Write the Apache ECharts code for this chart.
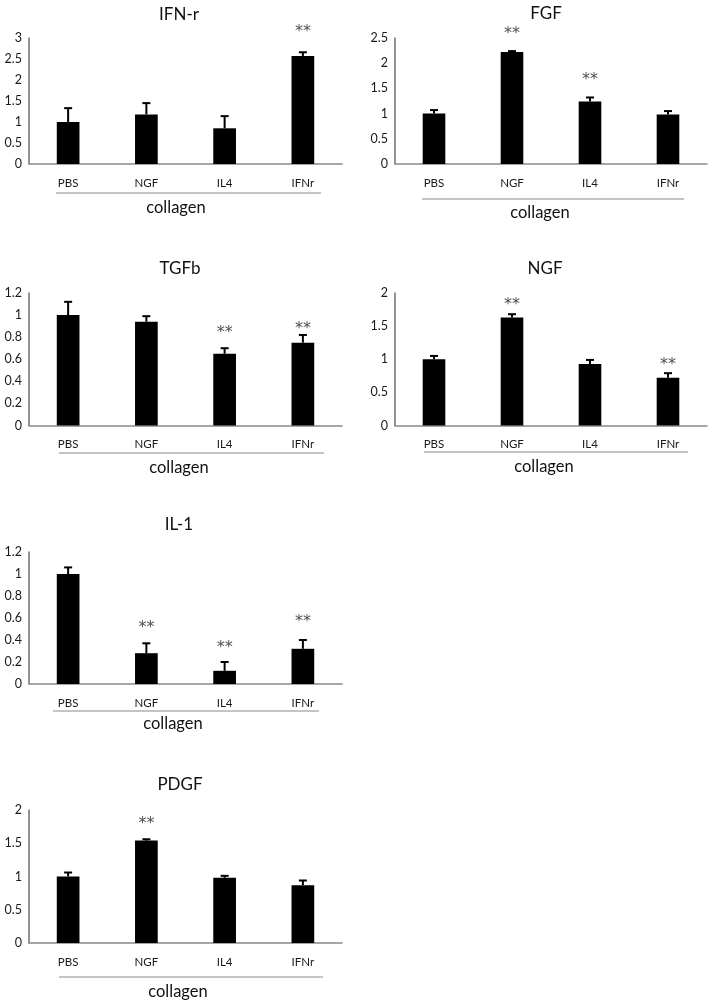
<!DOCTYPE html>
<html><head><meta charset="utf-8">
<script src="https://cdn.jsdelivr.net/npm/echarts@6/dist/echarts.min.js"></script>
<style>html,body{margin:0;padding:0;background:#fff}#c{width:709px;height:1001px}</style>
</head><body><div id="c"></div>
<script>
// ---- data ----
const categories = ['PBS', 'NGF', 'IL4', 'IFNr'];
const groupLabel = 'collagen';
const panelTitles = ['IFN-r', 'FGF', 'TGFb', 'NGF', 'IL-1', 'PDGF'];

const ifnrMean = [1.00, 1.18, 0.85, 2.57];
const ifnrErr  = [0.33, 0.27, 0.29, 0.09];
const ifnrStar = [null, null, null, 3.21];

const fgfMean = [1.00, 2.22, 1.24, 0.98];
const fgfErr  = [0.07, 0.02, 0.08, 0.07];
const fgfStar = [null, 2.64, 1.72, null];

const tgfbMean = [1.00, 0.94, 0.65, 0.75];
const tgfbErr  = [0.12, 0.05, 0.05, 0.07];
const tgfbStar = [null, null, 0.87, 0.90];

const ngfMean = [1.00, 1.63, 0.93, 0.72];
const ngfErr  = [0.05, 0.05, 0.06, 0.07];
const ngfStar = [null, 1.86, null, 0.96];

const il1Mean = [1.00, 0.28, 0.12, 0.32];
const il1Err  = [0.06, 0.09, 0.08, 0.08];
const il1Star = [null, 0.54, 0.36, 0.59];

const pdgfMean = [1.00, 1.54, 0.98, 0.87];
const pdgfErr  = [0.06, 0.02, 0.03, 0.07];
const pdgfStar = [null, 1.84, null, null];

const yMax      = [3, 2.5, 1.2, 2, 1.2, 2];
const yInterval = [0.5, 0.5, 0.2, 0.5, 0.2, 0.5];

const means = [ifnrMean, fgfMean, tgfbMean, ngfMean, il1Mean, pdgfMean];
const errs  = [ifnrErr, fgfErr, tgfbErr, ngfErr, il1Err, pdgfErr];
const stars = [ifnrStar, fgfStar, tgfbStar, ngfStar, il1Star, pdgfStar];

// ---- layout (positions only) ----
const layout = [
  {g:[29,38,313,126],    t:[174,11],  line:[56,321,193],  c:[176,208]},
  {g:[395,38,312,126],   t:[541,10],  line:[422,684,199], c:[540,213]},
  {g:[29,293,313,132.5], t:[175,265], line:[59,324,453],  c:[179,468]},
  {g:[395,293,312,132.5],t:[540,265], line:[424,688,452], c:[544,467]},
  {g:[29,552,313,132],   t:[174,521], line:[53,319,711],  c:[173,724]},
  {g:[29,810,313,133],   t:[175,781], line:[59,323,977],  c:[178,992]}
];

const FONT = 'Lato, "Open Sans", sans-serif';
const chart = echarts.init(document.getElementById('c'), null, {renderer: 'canvas'});

const grid = [], xAxis = [], yAxis = [], series = [], title = [], graphic = [];

layout.forEach((L, i) => {
  grid.push({left: L.g[0], top: L.g[1], width: L.g[2], height: L.g[3], containLabel: false});
  xAxis.push({
    type: 'category', gridIndex: i, data: categories,
    axisLine: {show: true, lineStyle: {color: '#8a8a8a', width: 1.5}},
    axisTick: {show: false},
    axisLabel: {color: '#1a1a1a', fontSize: 11.5, fontFamily: FONT, margin: 13}
  });
  yAxis.push({
    type: 'value', gridIndex: i, min: 0, max: yMax[i], interval: yInterval[i],
    axisLine: {show: true, lineStyle: {color: '#6e6e6e', width: 1.5}},
    axisTick: {show: false},
    splitLine: {show: false},
    axisLabel: {color: '#1a1a1a', fontSize: 12.5, fontFamily: FONT, margin: 7,
      formatter: v => String(+v.toFixed(2))}
  });
  title.push({
    text: panelTitles[i], left: L.t[0], top: L.t[1] - 10, textAlign: 'center',
    textStyle: {fontSize: 17, fontWeight: 'normal', color: '#111', fontFamily: FONT}
  });
  series.push({
    type: 'bar', xAxisIndex: i, yAxisIndex: i, data: means[i],
    barWidth: '29%', itemStyle: {color: '#000'}, silent: true, z: 2
  });
  series.push({
    type: 'custom', xAxisIndex: i, yAxisIndex: i, z: 3, silent: true,
    data: means[i].map((m, k) => [k, m, m + errs[i][k]]),
    renderItem: (params, api) => {
      const base = api.coord([api.value(0), api.value(1)]);
      const top = api.coord([api.value(0), api.value(2)]);
      const st = {stroke: '#000', lineWidth: 2};
      return {type: 'group', children: [
        {type: 'line', shape: {x1: base[0], y1: base[1], x2: top[0], y2: top[1]}, style: st},
        {type: 'line', shape: {x1: top[0] - 4, y1: top[1], x2: top[0] + 4, y2: top[1]}, style: st}
      ]};
    }
  });
  series.push({
    type: 'scatter', xAxisIndex: i, yAxisIndex: i, silent: true, symbolSize: 0, z: 4, clip: false,
    data: stars[i].map((s, k) => s == null ? null : [k, s]).filter(d => d),
    label: {show: true, position: 'inside', formatter: '**', color: '#222',
      fontSize: 16, fontFamily: '"DejaVu Sans", sans-serif', offset: [0, 3]}
  });
  graphic.push({type: 'line', shape: {x1: L.line[0], y1: L.line[2], x2: L.line[1], y2: L.line[2]},
    style: {stroke: '#8a8a8a', lineWidth: 1.2}, silent: true});
  graphic.push({type: 'text', x: L.c[0], y: L.c[1],
    style: {text: groupLabel, fill: '#111', font: '16.5px ' + FONT, textAlign: 'center', textVerticalAlign: 'middle'},
    silent: true});
});

chart.setOption({animation: false, backgroundColor: '#fff', title, grid, xAxis, yAxis, series, graphic});
</script></body></html>
